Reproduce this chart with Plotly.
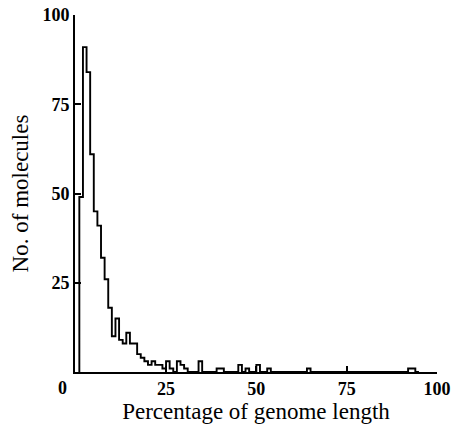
import plotly.graph_objects as go

# Histogram of molecule lengths: 1%-wide bins, left edges from 1 to 94
bin_left = list(range(1, 95))
counts = [
    49, 91, 84, 61, 45, 41, 32, 26, 18, 10,   # 1-10
    15, 9, 8, 11, 8, 8, 5, 4, 3, 2,           # 11-20
    3, 2, 2, 1, 3, 1, 0, 3, 2, 1,             # 21-30
    0, 0, 0, 3, 0, 0, 0, 0, 1, 1,             # 31-40
    0, 0, 0, 0, 2, 0, 1, 0, 0, 2,             # 41-50
    0, 0, 1, 0, 0, 0, 0, 0, 0, 0,             # 51-60
    0, 0, 0, 1, 0, 0, 0, 0, 0, 0,             # 61-70
    0, 0, 0, 0, 0, 0, 0, 0, 0, 0,             # 71-80
    0, 0, 0, 0, 0, 0, 0, 0, 0, 0,             # 81-90
    0, 1, 1, 0,                               # 91-94
]
bin_width = 1
x_ticks = [25, 50, 75, 100]
y_ticks = [25, 50, 75, 100]
x_title = "Percentage of genome length"
y_title = "No. of molecules"

# step outline (hv) built from bin edges and counts
xs = [bin_left[0]] + bin_left + [bin_left[-1] + bin_width]
ys = [0] + counts + [0]

serif = "Liberation Serif"
tick_font = dict(family=serif, size=18, color="black", weight="bold")

fig = go.Figure()
fig.add_trace(go.Scatter(
    x=xs, y=ys, mode="lines",
    line=dict(shape="hv", color="black", width=1.9),
    hoverinfo="skip", showlegend=False,
))

axis_common = dict(
    showline=True, linecolor="black", linewidth=1.6,
    ticks="inside", ticklen=6, tickwidth=1.5, tickcolor="black",
    showgrid=False, zeroline=False, automargin=False,
    tickfont=tick_font,
)

fig.update_xaxes(range=[-0.2, 100], tickvals=x_ticks,
                 title=dict(text=x_title, font=dict(family=serif, size=23, color="black"), standoff=4),
                 **axis_common)
fig.update_yaxes(range=[0, 100], tickvals=y_ticks,
                 title=dict(text=y_title, font=dict(family=serif, size=23, color="black"), standoff=8),
                 **axis_common)

# shared origin label at the corner
fig.add_annotation(x=0, y=0, xref="x", yref="y", text="0", showarrow=False,
                   xshift=-13, yshift=-16, font=tick_font)

fig.update_layout(
    width=452, height=430,
    margin=dict(l=75, r=15, t=15, b=58, autoexpand=False),
    plot_bgcolor="white", paper_bgcolor="white",
    showlegend=False,
)

# remove the default page margin so the figure sits at the window's corner
fig.write_html("out.html",
               config={"displayModeBar": False},
               post_script="document.body.style.margin='0';document.body.style.overflow='hidden';")
